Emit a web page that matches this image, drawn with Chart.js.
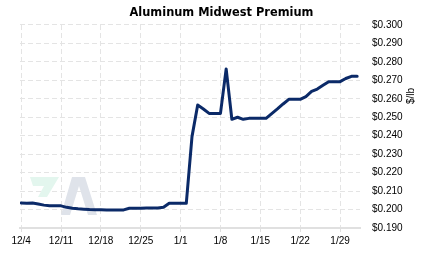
<!DOCTYPE html>
<html>
<head>
<meta charset="utf-8">
<script src="https://cdn.jsdelivr.net/npm/chart.js@4/dist/chart.umd.min.js"></script>
<style>
  html, body { margin: 0; padding: 0; background: #fff; }
  #wrap { width: 423px; height: 257px; position: relative; }
</style>
</head>
<body>
<div id="wrap"><canvas id="c" width="423" height="257"></canvas></div>
<script>
// Daily prices ($/lb) starting 12/4, one value per calendar day
const startLabel = '12/4';
const prices = [
  0.2036, 0.2034, 0.2035, 0.2030, 0.2024, 0.2020, 0.2020, 0.2020, 0.2012, 0.2007,
  0.2004, 0.2002, 0.2000, 0.1999, 0.1999, 0.1998, 0.1998, 0.1998, 0.1998, 0.2007,
  0.2007, 0.2007, 0.2008, 0.2008, 0.2009, 0.2012, 0.2034, 0.2034, 0.2034, 0.2034,
  0.2395, 0.2566, 0.2545, 0.2521, 0.2521, 0.2521, 0.2762, 0.2489, 0.2500, 0.2489,
  0.2494, 0.2494, 0.2494, 0.2494, 0.2520, 0.2545, 0.2572, 0.2597, 0.2597, 0.2597,
  0.2612, 0.2640, 0.2653, 0.2673, 0.2693, 0.2693, 0.2693, 0.2710, 0.2722, 0.2722
];
const xTickDays = [0, 7, 14, 21, 28, 35, 42, 49, 56];
const xTickLabels = ['12/4', '12/11', '12/18', '12/25', '1/1', '1/8', '1/15', '1/22', '1/29'];
const yMin = 0.19, yMax = 0.30, yStep = 0.01;
const chartTitle = 'Aluminum Midwest Premium';
const unitLabel = '$/lb';

const points = prices.map((v, i) => ({ x: i, y: v }));

const gridColor = '#e4e4e4';

const extras = {
  id: 'extras',
  beforeDatasetsDraw(chart) {
    const { ctx, chartArea } = chart;
    const L = chartArea.left, B = chartArea.bottom;
    ctx.save();
    // faint watermark logo
    ctx.fillStyle = '#e3f6ee';
    ctx.beginPath();
    ctx.moveTo(L + 10, B - 51);
    ctx.lineTo(L + 39, B - 51);
    ctx.lineTo(L + 27, B - 31);
    ctx.lineTo(L + 18, B - 31);
    ctx.lineTo(L + 24, B - 42);
    ctx.lineTo(L + 13, B - 42);
    ctx.closePath();
    ctx.fill();
    ctx.fillStyle = '#dfe3ea';
    ctx.beginPath();
    ctx.moveTo(L + 41, B - 13);
    ctx.lineTo(L + 52, B - 51);
    ctx.lineTo(L + 65, B - 51);
    ctx.lineTo(L + 77, B - 13);
    ctx.lineTo(L + 68, B - 13);
    ctx.lineTo(L + 59, B - 42);
    ctx.lineTo(L + 50, B - 13);
    ctx.closePath();
    ctx.fill();
    ctx.restore();
  },
  afterDraw(chart) {
    const { ctx } = chart;
    const y = chart.scales.y.getPixelForValue(0.2615);
    ctx.save();
    ctx.translate(411, y);
    ctx.rotate(-Math.PI / 2);
    ctx.fillStyle = '#000';
    ctx.font = '10px "Liberation Sans", Arial, sans-serif';
    ctx.textAlign = 'center';
    ctx.textBaseline = 'middle';
    ctx.fillText(unitLabel, 0, 0);
    ctx.restore();
  }
};

new Chart(document.getElementById('c'), {
  type: 'line',
  data: {
    datasets: [{
      data: points,
      borderColor: '#0b2a68',
      borderWidth: 3,
      pointRadius: 0,
      tension: 0,
      fill: false,
      borderJoinStyle: 'round',
      borderCapStyle: 'round'
    }]
  },
  options: {
    responsive: false,
    animation: false,
    devicePixelRatio: 1,
    layout: { padding: { left: 20, right: 0, top: 0, bottom: 0 } },
    plugins: {
      legend: { display: false },
      tooltip: { enabled: false },
      title: {
        display: true,
        text: chartTitle,
        color: '#000',
        font: { family: '"DejaVu Sans", Verdana, sans-serif', size: 11.4, weight: 'bold', lineHeight: 1.2 },
        padding: { top: 6, bottom: 5.3 }
      }
    },
    scales: {
      x: {
        type: 'linear',
        min: -0.2,
        max: 59.5,
        afterBuildTicks(scale) { scale.ticks = xTickDays.map(v => ({ value: v })); },
        afterFit(scale) { scale.height = 29; },
        ticks: {
          autoSkip: false,
          maxRotation: 0,
          color: '#000',
          padding: 3,
          font: { family: '"Liberation Sans", Arial, sans-serif', size: 10 },
          callback(value) {
            const i = xTickDays.indexOf(value);
            return i >= 0 ? xTickLabels[i] : '';
          }
        },
        grid: { color: gridColor, drawTicks: true, tickLength: 4, tickColor: '#e0e0e0' },
        border: { display: true, color: '#e0e0e0', width: 2, dash: [5, 3] }
      },
      y: {
        type: 'linear',
        position: 'right',
        min: yMin,
        max: yMax,
        afterBuildTicks(scale) {
          const t = [];
          for (let k = 0; k <= Math.round((yMax - yMin) / yStep); k++) t.push({ value: +(yMin + k * yStep).toFixed(3) });
          scale.ticks = t;
        },
        afterFit(scale) { scale.width = 63; },
        ticks: {
          color: '#000',
          padding: 12,
          font: { family: '"Liberation Sans", Arial, sans-serif', size: 10 },
          callback(value) { return '$' + Number(value).toFixed(3); }
        },
        grid: { color: gridColor, drawTicks: false },
        border: { display: false, dash: [5, 3] }
      }
    }
  },
  plugins: [extras]
});
</script>
</body>
</html>
